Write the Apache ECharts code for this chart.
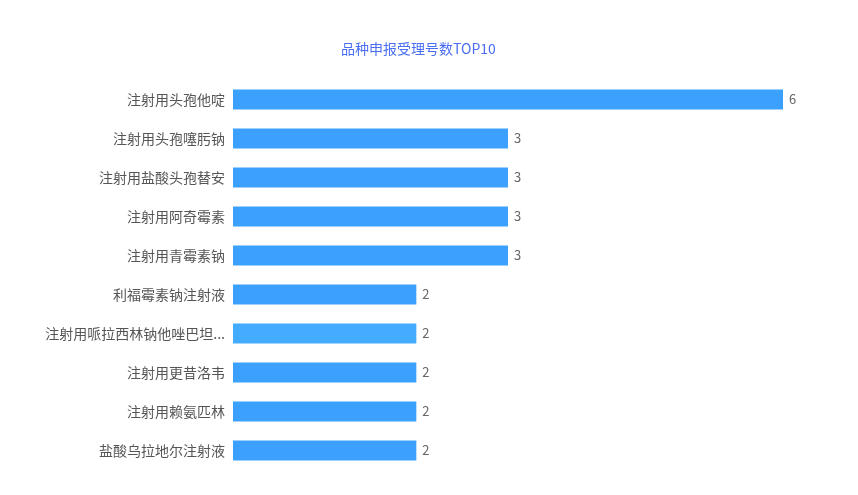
<!DOCTYPE html>
<html><head><meta charset="utf-8">
<script src="https://cdn.jsdelivr.net/npm/echarts@6/dist/echarts.min.js"></script>
<style>html,body{margin:0;padding:0;background:#fff}#c{width:858px;height:495px}</style>
</head><body><div id="c"></div>
<script>
const titleText = '品种申报受理号数TOP10';
const categories = ['注射用头孢他啶','注射用头孢噻肟钠','注射用盐酸头孢替安','注射用阿奇霉素','注射用青霉素钠','利福霉素钠注射液','注射用哌拉西林钠他唑巴坦钠','注射用更昔洛韦','注射用赖氨匹林','盐酸乌拉地尔注射液'];
const values = [6,3,3,3,3,2,2,2,2,2];
const highlightIndex = 6;
const maxLabelChars = 12;

const chart = echarts.init(document.getElementById('c'));
chart.setOption({
  animation: false,
  title: {text: titleText, left: 336, top: 37, textStyle: {fontSize: 14, fontWeight: 'normal', color: '#4a6ef2', fontFamily: 'Noto Sans CJK SC'}},
  grid: {left: 233, right: 75, top: 80, bottom: 25, containLabel: false},
  xAxis: {type: 'value', min: 0, max: 6, show: false},
  yAxis: {type: 'category', inverse: true, data: categories,
    axisLine: {show: false}, axisTick: {show: false},
    axisLabel: {margin: 8, color: '#555', fontSize: 14, fontFamily: 'Noto Sans CJK SC',
      formatter: v => v.length > maxLabelChars ? v.slice(0, maxLabelChars) + '...' : v}},
  series: [{type: 'bar', barWidth: 20,
    data: values.map((v, i) => i === highlightIndex ? {value: v, itemStyle: {color: '#44acff'}} : v),
    itemStyle: {color: '#3ca0ff'},
    label: {show: true, position: 'right', distance: 6, color: '#666', fontSize: 13, fontFamily: 'Noto Sans CJK SC'}}]
});
</script></body></html>
